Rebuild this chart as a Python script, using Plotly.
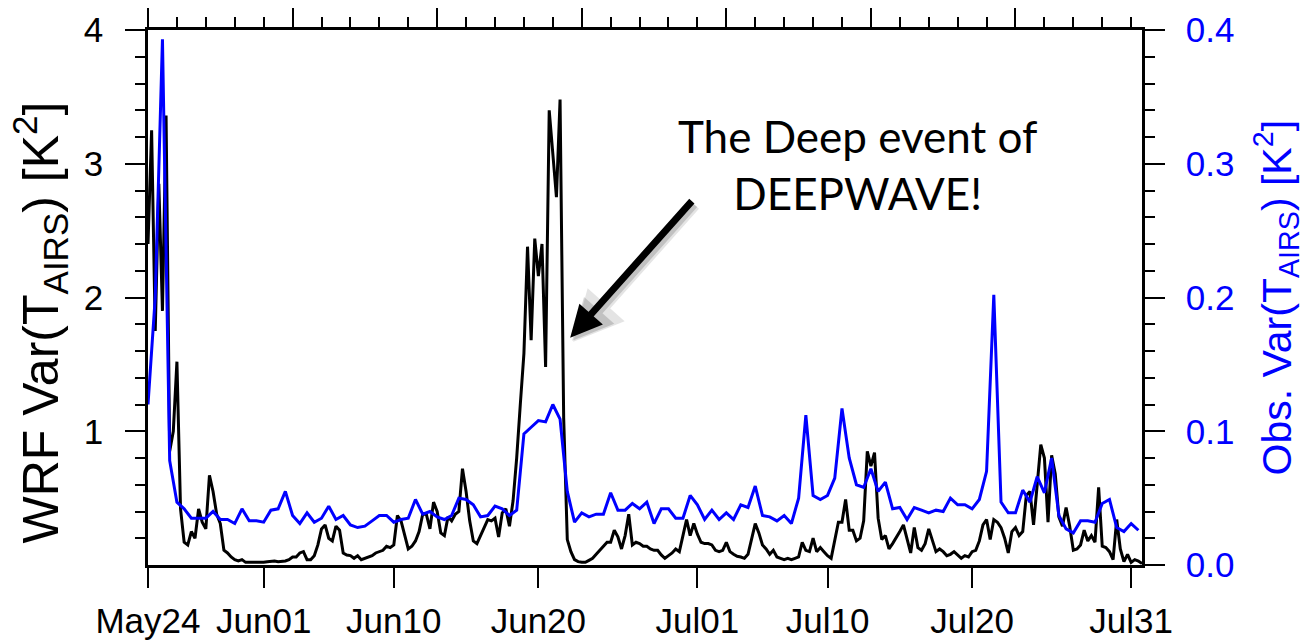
import pandas as pd
import plotly.graph_objects as go

# WRF-simulated variance of T_AIRS, 6-hourly from 2014-05-24 00 UTC [K^2]
wrf_var = [
    2.40, 3.25, 1.75, 2.85, 1.90, 3.36, 0.85, 1.00, 1.52, 0.42,
    0.17, 0.15, 0.25, 0.20, 0.42, 0.32, 0.27, 0.67, 0.55, 0.38,
    0.31, 0.11, 0.09, 0.06, 0.04, 0.03, 0.04, 0.02, 0.02, 0.02,
    0.015, 0.02, 0.02, 0.025, 0.03, 0.03, 0.025, 0.025, 0.03, 0.04,
    0.06, 0.06, 0.09, 0.10, 0.04, 0.04, 0.07, 0.15, 0.27, 0.30,
    0.20, 0.18, 0.29, 0.26, 0.09, 0.075, 0.07, 0.05, 0.07, 0.04,
    0.05, 0.06, 0.07, 0.09, 0.10, 0.11, 0.14, 0.13, 0.15, 0.37,
    0.33, 0.22, 0.12, 0.14, 0.18, 0.25, 0.38, 0.38, 0.27, 0.47,
    0.40, 0.24, 0.22, 0.36, 0.33, 0.38, 0.40, 0.72, 0.55, 0.33,
    0.18, 0.16, 0.22, 0.28, 0.34, 0.33, 0.35, 0.21, 0.39, 0.42,
    0.29, 0.48, 0.80, 1.20, 1.58, 2.38, 1.68, 2.44, 2.16, 2.40,
    1.48, 3.40, 3.05, 2.75, 3.48, 1.10, 0.19, 0.10, 0.04, 0.025,
    0.02, 0.02, 0.035, 0.05, 0.08, 0.11, 0.14, 0.17, 0.17, 0.26,
    0.21, 0.12, 0.22, 0.38, 0.15, 0.17, 0.16, 0.14, 0.14, 0.12,
    0.11, 0.11, 0.075, 0.05, 0.07, 0.09, 0.12, 0.10, 0.22, 0.34,
    0.22, 0.31, 0.23, 0.17, 0.16, 0.16, 0.15, 0.11, 0.10, 0.11,
    0.17, 0.10, 0.08, 0.065, 0.06, 0.05, 0.08, 0.19, 0.31, 0.24,
    0.15, 0.12, 0.08, 0.11, 0.06, 0.05, 0.04, 0.05, 0.04, 0.05,
    0.06, 0.17, 0.11, 0.10, 0.20, 0.10, 0.13, 0.10, 0.07, 0.05,
    0.20, 0.32, 0.32, 0.49, 0.26, 0.26, 0.18, 0.20, 0.33, 0.85,
    0.74, 0.84, 0.35, 0.19, 0.22, 0.12, 0.16, 0.20, 0.25, 0.30,
    0.19, 0.09, 0.28, 0.13, 0.11, 0.16, 0.27, 0.19, 0.10, 0.12,
    0.10, 0.07, 0.08, 0.10, 0.075, 0.05, 0.07, 0.06, 0.10, 0.11,
    0.18, 0.30, 0.34, 0.19, 0.34, 0.32, 0.28, 0.20, 0.09, 0.25,
    0.28, 0.22, 0.25, 0.52, 0.55, 0.30, 0.60, 0.90, 0.80, 0.32,
    0.82, 0.68, 0.36, 0.29, 0.43, 0.29, 0.11, 0.12, 0.15, 0.26,
    0.18, 0.22, 0.17, 0.58, 0.14, 0.13, 0.10, 0.04, 0.34, 0.12,
    0.025, 0.08, 0.02, 0.04, 0.03, 0.01,
]

# Observed AIRS variance, 12-hourly from 2014-05-24 00 UTC [K^2]
obs_var = [
    0.120, 0.200, 0.393, 0.078, 0.047, 0.042, 0.035, 0.035, 0.035, 0.040,
    0.034, 0.034, 0.031, 0.042, 0.033, 0.033, 0.032, 0.041, 0.042, 0.055,
    0.037, 0.031, 0.039, 0.032, 0.035, 0.044, 0.034, 0.037, 0.030, 0.028,
    0.029, 0.033, 0.037, 0.037, 0.032, 0.034, 0.035, 0.049, 0.038, 0.040,
    0.036, 0.034, 0.037, 0.050, 0.049, 0.045, 0.036, 0.037, 0.044, 0.042,
    0.037, 0.041, 0.098, 0.103, 0.108, 0.107, 0.120, 0.109, 0.055, 0.032,
    0.039, 0.036, 0.038, 0.038, 0.054, 0.041, 0.041, 0.046, 0.042, 0.047,
    0.031, 0.042, 0.042, 0.035, 0.035, 0.052, 0.045, 0.034, 0.041, 0.034,
    0.039, 0.034, 0.045, 0.043, 0.059, 0.037, 0.036, 0.033, 0.037, 0.031,
    0.050, 0.112, 0.052, 0.049, 0.052, 0.065, 0.117, 0.080, 0.060, 0.058,
    0.072, 0.055, 0.062, 0.042, 0.043, 0.034, 0.043, 0.041, 0.039, 0.041,
    0.040, 0.050, 0.045, 0.045, 0.042, 0.049, 0.070, 0.202, 0.047, 0.039,
    0.039, 0.056, 0.047, 0.066, 0.054, 0.080, 0.037, 0.027, 0.024, 0.033,
    0.033, 0.032, 0.046, 0.049, 0.028, 0.025, 0.031, 0.026,
]

tick_dates = ["2014-05-24", "2014-06-01", "2014-06-10", "2014-06-20",
              "2014-07-01", "2014-07-10", "2014-07-20", "2014-07-31"]
tick_labels = ["May24", "Jun01", "Jun10", "Jun20", "Jul01", "Jul10", "Jul20", "Jul31"]

left_ticks = [1, 2, 3, 4]
right_ticks = [0.0, 0.1, 0.2, 0.3, 0.4]

wrf_time = pd.date_range("2014-05-24", periods=len(wrf_var), freq="6h")
obs_time = pd.date_range("2014-05-24", periods=len(obs_var), freq="12h")
x_start, x_end = wrf_time[0], wrf_time[-1]

DAY_MS = 86400000
FONT = "Liberation Sans"
BLUE = "#0000ff"

left_minor = [round(0.2 * k, 2) for k in range(1, 20) if k % 5 != 0]
right_minor = [round(0.02 * k, 3) for k in range(1, 20) if k % 5 != 0]

fig = go.Figure()
fig.add_trace(go.Scatter(x=wrf_time, y=wrf_var, mode="lines",
                         line=dict(color="black", width=3),
                         xaxis="x", yaxis="y", showlegend=False))
fig.add_trace(go.Scatter(x=obs_time, y=obs_var, mode="lines",
                         line=dict(color=BLUE, width=3),
                         xaxis="x", yaxis="y2", showlegend=False))
# empty trace so the top axis is drawn
fig.add_trace(go.Scatter(x=[x_start, x_end], y=[None, None], mode="lines",
                         xaxis="x2", yaxis="y", showlegend=False, hoverinfo="skip"))

axis_common = dict(showgrid=False, zeroline=False, showline=True,
                   linecolor="black", linewidth=2.5, ticks="outside",
                   tickcolor="black", tickwidth=2, automargin=False)

fig.update_layout(
    width=1305, height=643,
    margin=dict(l=148, r=163, t=30, b=78),
    paper_bgcolor="white", plot_bgcolor="white",
    showlegend=False,
    xaxis=dict(type="date", range=[x_start, x_end],
               tickmode="array", tickvals=tick_dates, ticktext=tick_labels,
               ticklen=20, ticklabelstandoff=3,
               tickfont=dict(family=FONT, size=35, color="black"),
               **axis_common),
    xaxis2=dict(type="date", overlaying="x", side="top", anchor="y",
                range=[x_start, x_end], tick0=x_start, dtick=10 * DAY_MS,
                ticklen=19, showticklabels=False,
                minor=dict(tick0=x_start, dtick=2 * DAY_MS, ticks="outside",
                           ticklen=10, tickwidth=1.5, tickcolor="black"),
                **axis_common),
    yaxis=dict(range=[0, 4], tickmode="array", tickvals=left_ticks,
               ticklen=20, ticklabelstandoff=15,
               tickfont=dict(family=FONT, size=35, color="black"),
               minor=dict(tickmode="array", tickvals=left_minor, ticks="outside",
                          ticklen=10, tickwidth=1.5, tickcolor="black"),
               **axis_common),
    yaxis2=dict(range=[0, 0.4], overlaying="y", side="right", anchor="x",
                tickmode="array", tickvals=right_ticks, tickformat=".1f",
                ticklen=20, ticklabelstandoff=14,
                tickfont=dict(family=FONT, size=35, color=BLUE),
                minor=dict(tickmode="array", tickvals=right_minor, ticks="outside",
                           ticklen=10, tickwidth=1.5, tickcolor="black"),
                **axis_common),
)

# axis titles
fig.add_annotation(text="WRF Var(T<sub>AIRS</sub>) [K<sup>2</sup>]",
                   xref="paper", yref="paper", x=0, y=0.5, xshift=-108, yshift=-25,
                   xanchor="center", yanchor="middle", textangle=-90,
                   showarrow=False,
                   font=dict(family=FONT, size=50, color="black"))
fig.add_annotation(text="Obs. Var(T<sub>AIRS</sub>) [K<sup>2</sup>]",
                   xref="paper", yref="paper", x=1, y=0.5, xshift=134,
                   xanchor="center", yanchor="middle", textangle=-90,
                   showarrow=False,
                   font=dict(family=FONT, size=41, color=BLUE))

# callout for the DEEPWAVE event
arrow_x = x_start + pd.Timedelta(days=29.2)
arrow_y = 1.70
for dx, dy, col, w in [(3, -4, "rgba(0,0,0,0.10)", 11), (2, -3, "rgba(0,0,0,0.15)", 9)]:
    fig.add_annotation(x=arrow_x, y=arrow_y, xref="x", yref="y", text="",
                       showarrow=True, ax=123, ay=-138, xshift=dx, yshift=dy,
                       arrowhead=2, arrowsize=0.9, arrowwidth=w, arrowcolor=col)
fig.add_annotation(x=arrow_x, y=arrow_y, xref="x", yref="y", text="",
                   showarrow=True, ax=123, ay=-138,
                   arrowhead=2, arrowsize=0.9, arrowwidth=7, arrowcolor="black")
fig.add_annotation(text="The Deep event of<br>DEEPWAVE!",
                   xref="paper", yref="paper", x=0.714, y=0.748,
                   xanchor="center", yanchor="middle", showarrow=False,
                   font=dict(family="Lato", size=44, color="black"))

fig.write_html("out.html")
